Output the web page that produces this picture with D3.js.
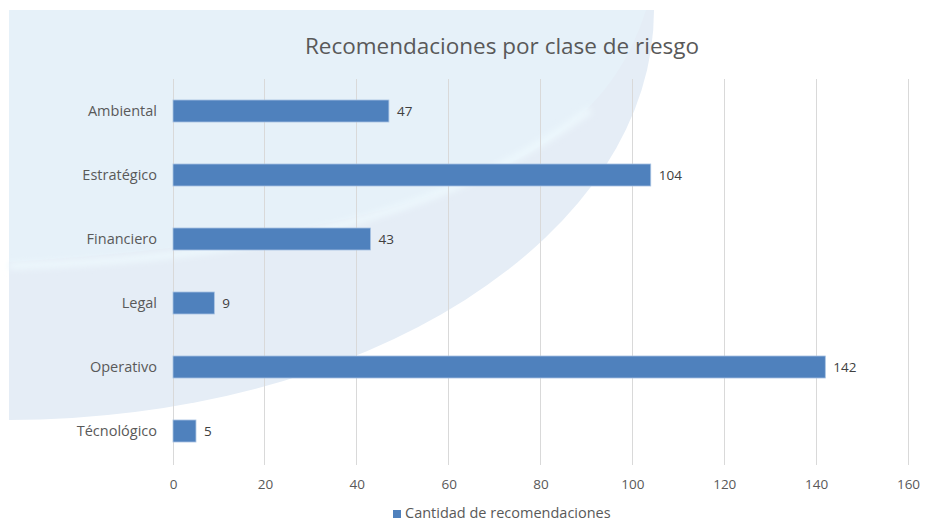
<!DOCTYPE html>
<html><head><meta charset="utf-8">
<script src="https://cdn.jsdelivr.net/npm/d3@7"></script>
<style>body{margin:0;background:#fff}svg{display:block}text{font-family:"Open Sans",sans-serif}</style>
</head><body>
<svg id="c" width="925" height="523"></svg>
<script>
const categories = ["Ambiental","Estratégico","Financiero","Legal","Operativo","Técnológico"];
const values = [47,104,43,9,142,5];
const xTicks = [0,20,40,60,80,100,120,140,160];
const title = "Recomendaciones por clase de riesgo";
const seriesName = "Cantidad de recomendaciones";

const svg = d3.select("#c");
const defs = svg.append("defs");
defs.append("filter").attr("id","blur").append("feGaussianBlur").attr("stdDeviation","3");

// background decorative quarter ellipse
const cx0 = 9, cy0 = 10, rx = 645, ry = 410;
svg.append("path")
  .attr("d", `M${cx0},${cy0} L${cx0+rx},${cy0} A${rx},${ry} 0 0 1 ${cx0},${cy0+ry} Z`)
  .attr("fill","#e5edf6");
svg.append("path")
  .attr("d", `M${cx0},${cy0} L${cx0+rx-8},${cy0} C 610,120 520,230 ${cx0},262 Z`)
  .attr("fill","#e6f1f9");
svg.append("path")
  .attr("d", `M${cx0},266 C 300,258 470,200 590,110`)
  .attr("fill","none").attr("stroke","#edf8fd").attr("stroke-width",7).attr("filter","url(#blur)");

const x = d3.scaleLinear().domain([0,160]).range([173,908]);
const y = d3.scaleBand().domain(categories).range([79,463]).paddingInner(0.656).paddingOuter(0.328);

// gridlines
svg.append("g").selectAll("line").data(xTicks).join("line")
  .attr("x1",d=>x(d)).attr("x2",d=>x(d)).attr("y1",79).attr("y2",465)
  .attr("stroke","#d9d9d9").attr("stroke-width",1).attr("shape-rendering","crispEdges");

// x axis labels
const xa = svg.append("g").attr("transform","translate(0,463)")
  .call(d3.axisBottom(x).tickValues(xTicks).tickSize(0).tickPadding(16).tickFormat(d3.format("d")));
xa.select(".domain").remove();
xa.selectAll("text").attr("fill","#595959").style("font-size","13.5px").style("font-family","'Open Sans',sans-serif");

// y axis labels
const ya = svg.append("g").attr("transform","translate(173,0)")
  .call(d3.axisLeft(y).tickSize(0).tickPadding(16));
ya.select(".domain").remove();
ya.selectAll("text").attr("fill","#595959").style("font-size","14.5px").style("font-family","'Open Sans',sans-serif");

// bars
svg.append("g").selectAll("rect").data(categories).join("rect")
  .attr("x",x(0)).attr("y",d=>y(d))
  .attr("width",(d,i)=>x(values[i])-x(0)).attr("height",y.bandwidth())
  .attr("fill","#4f81bd").attr("stroke","#a9c3e2").attr("stroke-width",0.8);

// value labels
svg.append("g").selectAll("text").data(categories).join("text")
  .attr("x",(d,i)=>x(values[i])+8).attr("y",d=>y(d)+y.bandwidth()/2)
  .attr("dy","0.36em").attr("fill","#404040").style("font-size","13.5px")
  .text((d,i)=>values[i]);

// title
svg.append("text").attr("x",502).attr("y",46).attr("dy","0.35em").attr("text-anchor","middle")
  .attr("fill","#595959").style("font-size","22.5px").text(title);

// legend
svg.append("rect").attr("x",393).attr("y",510).attr("width",8).attr("height",8).attr("fill","#4f81bd");
svg.append("text").attr("x",405).attr("y",513).attr("dy","0.36em").attr("fill","#595959")
  .style("font-size","14.5px").text(seriesName);
</script>
</body></html>
